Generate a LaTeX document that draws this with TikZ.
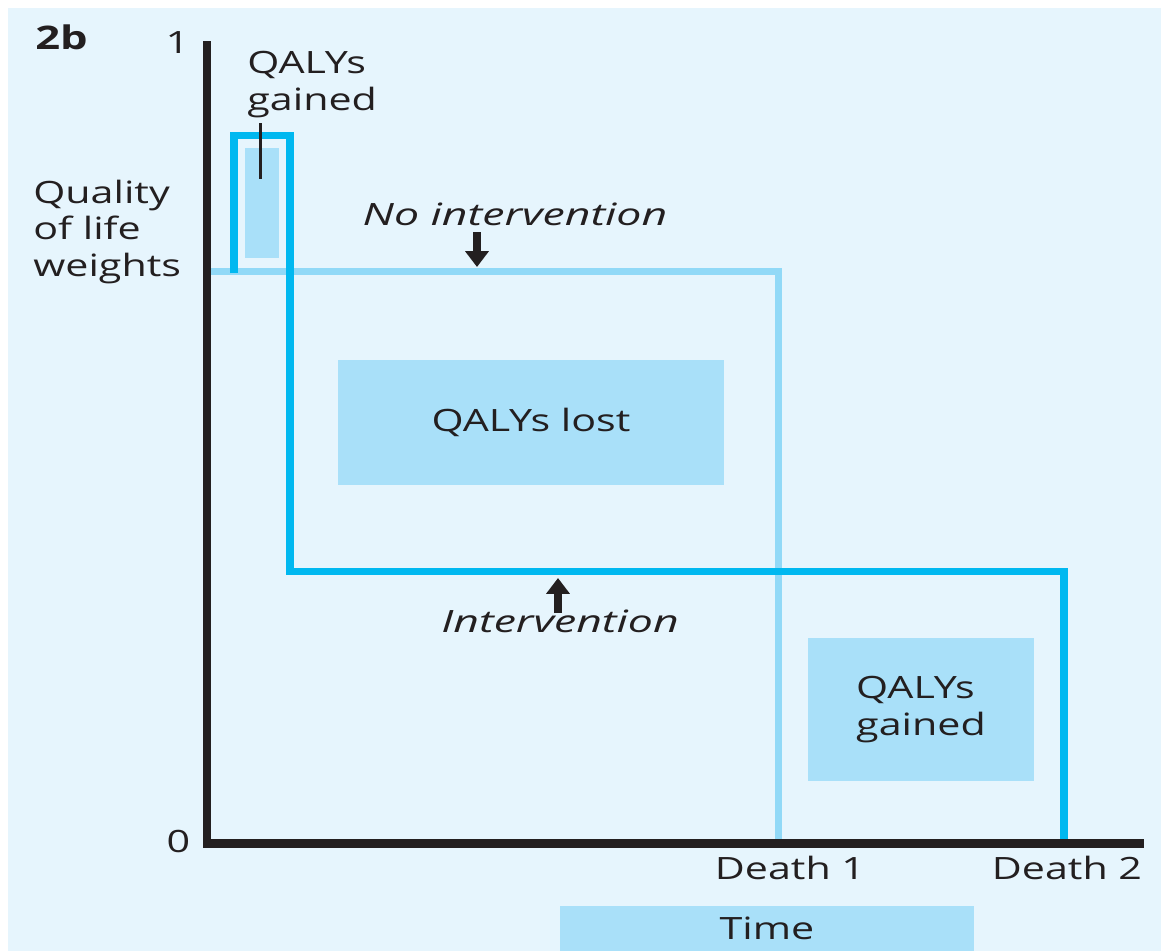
\documentclass[tikz,border=0pt]{standalone}
\usepackage{fontspec}
\setmainfont[FakeStretch=1.34, ItalicFeatures={FakeStretch=1.45}]{Open Sans}
\usetikzlibrary{arrows.meta}

\definecolor{paneblue}{HTML}{E6F5FD}
\definecolor{areablue}{HTML}{A9E0F9}
\definecolor{nointblue}{HTML}{91D9F7}
\definecolor{intcyan}{HTML}{00B8F0}
\definecolor{axisblack}{HTML}{231F20}

\tikzset{
  axis/.style={draw=axisblack, line width=4.6pt},
  nointpath/.style={draw=nointblue, line width=4pt},
  intpath/.style={draw=intcyan, line width=4pt},
  area/.style={fill=areablue, inner sep=0pt, align=left, text=axisblack},
  lbl/.style={inner sep=0pt, align=left, text=axisblack},
  pointer/.style={draw=axisblack, line width=1.6pt},
  bigarrow/.style={draw=axisblack, line width=4pt, -{Triangle[width=13pt,length=9pt]}}
}

\begin{document}
\begin{tikzpicture}[x=0.02cm, y=-0.02cm,
    every node/.style={font=\fontsize{17.5}{21}\selectfont}]
  \useasboundingbox (0,0) rectangle (1161,951);
  \fill[white] (0,0) rectangle (1161,951);
  \fill[paneblue] (8,8) rectangle (1161,951);

  % shaded areas
  \node[area, minimum width=7.72cm, minimum height=2.5cm] (lost) at (531,422.5) {QALYs lost};
  \node[area, minimum width=4.52cm, minimum height=2.86cm] (gainedlow) at (921,709.5) {QALYs\\gained};
  \node[area, minimum width=0.68cm, minimum height=2.2cm] (gainedbar) at (262,203) {};
  \node[area, minimum width=8.28cm, minimum height=0.9cm] (time) at (767,928.5) {Time};

  % axes
  \coordinate (ytop) at (207,41);
  \coordinate (origin) at (207,843.5);
  \coordinate (xend) at (1144,843.5);

  % paths
  \coordinate (noint0) at (207,271.5);
  \coordinate (noint1) at (778.5,271.5);
  \coordinate (death1) at (778.5,843.5);
  \draw[nointpath] (noint0) -- (noint1) -- (death1);

  \coordinate (int0) at (234,273);
  \coordinate (int1) at (234,135.5);
  \coordinate (int2) at (290,135.5);
  \coordinate (int3) at (290,571.5);
  \coordinate (int4) at (1064,571.5);
  \coordinate (death2) at (1064,843.5);
  \draw[intpath] (int0) -- (int1) -- (int2) -- (int3) -- (int4) -- (death2);

  \draw[axis] (ytop) -- (origin) -- (xend);

  % labels
  \node[lbl, font=\fontsize{18.5}{21}\bfseries, anchor=base west] (fig) at (35,49) {2b};
  \node[lbl, anchor=base] (one) at (177.5,53) {1};
  \node[lbl, anchor=base] (zero) at (178.5,852) {0};
  \node[lbl, anchor=west] (qol) at (33,232) {Quality\\of life\\weights};
  \node[lbl, anchor=north west] (gainedtop) at (247,50.5) {QALYs\\gained};
  \node[lbl, font=\fontsize{17.5}{21}\itshape, anchor=base] (nointlbl) at (515,225) {No intervention};
  \node[lbl, font=\fontsize{17.5}{21}\itshape, anchor=base] (intlbl) at (560,632) {Intervention};
  \node[lbl, anchor=base] (d1) at (790,879) {Death 1};
  \node[lbl, anchor=base] (d2) at (1067,879) {Death 2};

  % pointers and arrows
  \coordinate (ptop) at (260.5,123);
  \coordinate (pend) at (260.5,179);
  \draw[pointer] (ptop) -- (pend);

  \coordinate (nointtail) at (477,232);
  \coordinate (nointtip) at (477,267);
  \draw[bigarrow] (nointtail) -- (nointtip);

  \coordinate (inttail) at (558,613);
  \coordinate (inttip) at (558,578);
  \draw[bigarrow] (inttail) -- (inttip);
\end{tikzpicture}
\end{document}
